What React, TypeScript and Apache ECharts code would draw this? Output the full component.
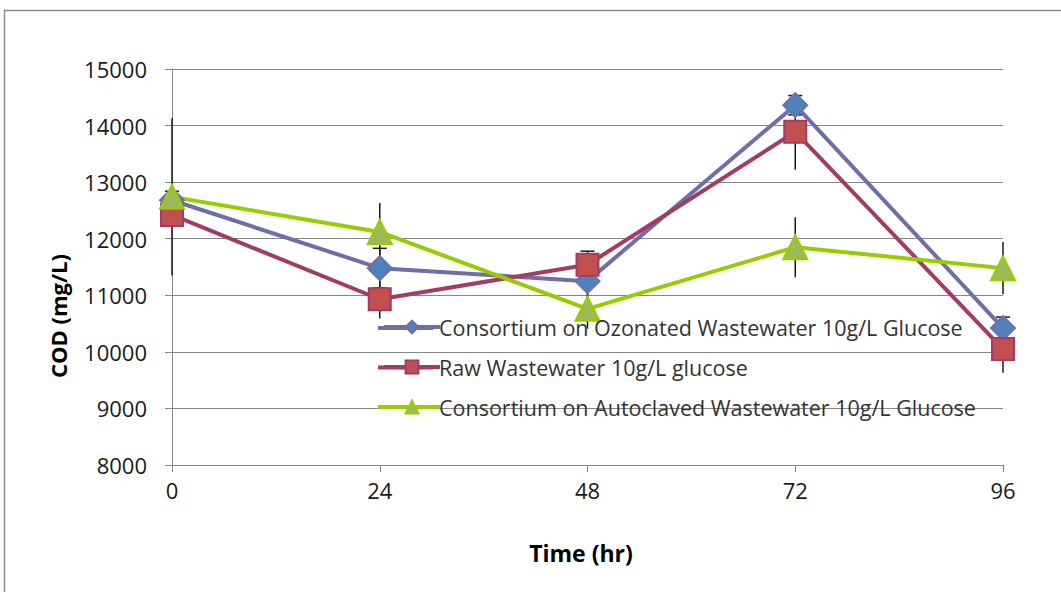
import React, { useEffect, useRef } from "react";
import * as echarts from "echarts";

const hours = [0, 24, 48, 72, 96];
const yTicks = [8000, 9000, 10000, 11000, 12000, 13000, 14000, 15000];
const seriesNames = [
  "Consortium on Ozonated Wastewater 10g/L Glucose",
  "Raw Wastewater 10g/L glucose",
  "Consortium on Autoclaved Wastewater 10g/L Glucose",
];
const lineColors = ["#6E6FA9", "#A33B64", "#99CC00"];
const fillColors = ["#4F81BD", "#C0504D", "#9BBB59"];
const ozonated = [12680, 11480, 11250, 14360, 10420];
const raw = [12420, 10930, 11540, 13890, 10050];
const autoclaved = [12740, 12120, 10760, 11850, 11480];
const ozonatedErr = [160, 350, 530, 170, 195];
const rawErr = [0, 340, 150, 670, 420];
const autoclavedErr = [1390, 510, 350, 530, 460];

const FONT = "'Open Sans', 'Noto Sans', sans-serif";

export default function App() {
  const ref = useRef<HTMLDivElement>(null);
  useEffect(() => {
    if (!ref.current) return;
    const chart = echarts.init(ref.current, null, { renderer: "svg" });

    const pairs = (vals: number[]) => hours.map((h, i) => [h, vals[i]]);
    const errData: any[] = [];
    const addErr = (vals: number[], errs: number[], cap: number) => {
      hours.forEach((h, i) => {
        if (errs[i] > 0) errData.push([h, vals[i], errs[i], cap]);
      });
    };
    addErr(autoclaved, autoclavedErr, 0);
    addErr(raw, rawErr, 0);
    addErr(ozonated, ozonatedErr, 1);

    const mk = (idx: number, vals: number[], symbol: string, size: number) => ({
      name: seriesNames[idx],
      type: "line",
      data: pairs(vals),
      symbol,
      symbolSize: size,
      z: 3,
      lineStyle: { color: lineColors[idx], width: 4 },
      itemStyle: { color: fillColors[idx], borderColor: lineColors[idx], borderWidth: 2 },
    });

    const legendLeft = 377;
    const legendTop = 311;
    const legendRow = 39.5;
    const legendIconLines = seriesNames.map((_, i) => ({
      type: "line",
      silent: true,
      z: 100,
      shape: {
        x1: legendLeft + 1,
        y1: legendTop + 17 + i * legendRow,
        x2: legendLeft + 56,
        y2: legendTop + 17 + i * legendRow,
      },
      style: { stroke: lineColors[i], lineWidth: 4 },
    }));

    chart.setOption({
      animation: false,
      backgroundColor: "#ffffff",
      grid: { left: 172, right: 58, top: 69, bottom: 127 },
      xAxis: {
        type: "value",
        min: 0,
        max: 96,
        interval: 24,
        axisLine: { show: true, lineStyle: { color: "#868686", width: 1 } },
        axisTick: { show: true, length: 7, lineStyle: { color: "#868686" } },
        splitLine: { show: false },
        axisLabel: {
          color: "#1a1a1a",
          fontSize: 22,
          fontFamily: FONT,
          margin: 14,
          formatter: (v: number) => String(v),
        },
      },
      yAxis: {
        type: "value",
        min: yTicks[0],
        max: yTicks[yTicks.length - 1],
        interval: 1000,
        axisLine: { show: true, lineStyle: { color: "#868686", width: 1 } },
        axisTick: { show: true, length: 7, lineStyle: { color: "#868686" } },
        splitLine: { show: true, lineStyle: { color: "#868686", width: 1 } },
        axisLabel: {
          color: "#1a1a1a",
          fontSize: 22,
          fontFamily: FONT,
          margin: 25,
          formatter: (v: number) => String(v),
        },
      },
      legend: {
        orient: "vertical",
        left: legendLeft,
        top: legendTop,
        itemWidth: 56,
        itemHeight: 16,
        itemGap: 18,
        z: 101,
        data: seriesNames,
        lineStyle: { width: 4 },
        textStyle: { fontSize: 21.5, color: "#333333", fontFamily: FONT, padding: [0, 0, 0, -6] },
      },
      graphic: [
        {
          type: "rect",
          shape: { x: 4.5, y: 10.5, width: 1200, height: 800 },
          style: { fill: "none", stroke: "#8a8a8a", lineWidth: 1.5 },
          silent: true,
        },
        ...legendIconLines,
        {
          type: "text",
          x: 58,
          y: 316,
          rotation: Math.PI / 2,
          style: {
            text: "COD (mg/L)",
            fontSize: 22,
            fontWeight: "bold",
            fontFamily: FONT,
            fill: "#000000",
            align: "center",
            verticalAlign: "middle",
          },
        },
        {
          type: "text",
          x: 581,
          y: 553,
          style: {
            text: "Time (hr)",
            fontSize: 23,
            fontWeight: "bold",
            fontFamily: FONT,
            fill: "#000000",
            align: "center",
            verticalAlign: "middle",
          },
        },
      ],
      series: [
        {
          type: "custom",
          name: "errors",
          z: 2,
          silent: true,
          data: errData,
          renderItem: (params: any, api: any) => {
            const x = api.value(0);
            const y = api.value(1);
            const e = api.value(2);
            const cap = api.value(3);
            const p = api.coord([x, y + e]);
            const q = api.coord([x, y - e]);
            const style = { stroke: "#1a1a1a", lineWidth: 1.5 };
            const children: any[] = [
              { type: "line", shape: { x1: p[0], y1: p[1], x2: q[0], y2: q[1] }, style },
            ];
            if (cap) {
              children.push({ type: "line", shape: { x1: p[0] - 7, y1: p[1], x2: p[0] + 7, y2: p[1] }, style });
              children.push({ type: "line", shape: { x1: q[0] - 7, y1: q[1], x2: q[0] + 7, y2: q[1] }, style });
            }
            return { type: "group", children };
          },
        },
        mk(0, ozonated, "diamond", 24),
        mk(1, raw, "rect", 22),
        mk(2, autoclaved, "triangle", 24),
      ],
    });
    return () => chart.dispose();
  }, []);
  return (
    <div
      ref={ref}
      style={{ position: "fixed", left: 0, top: 0, width: 1061, height: 592 }}
    />
  );
}
